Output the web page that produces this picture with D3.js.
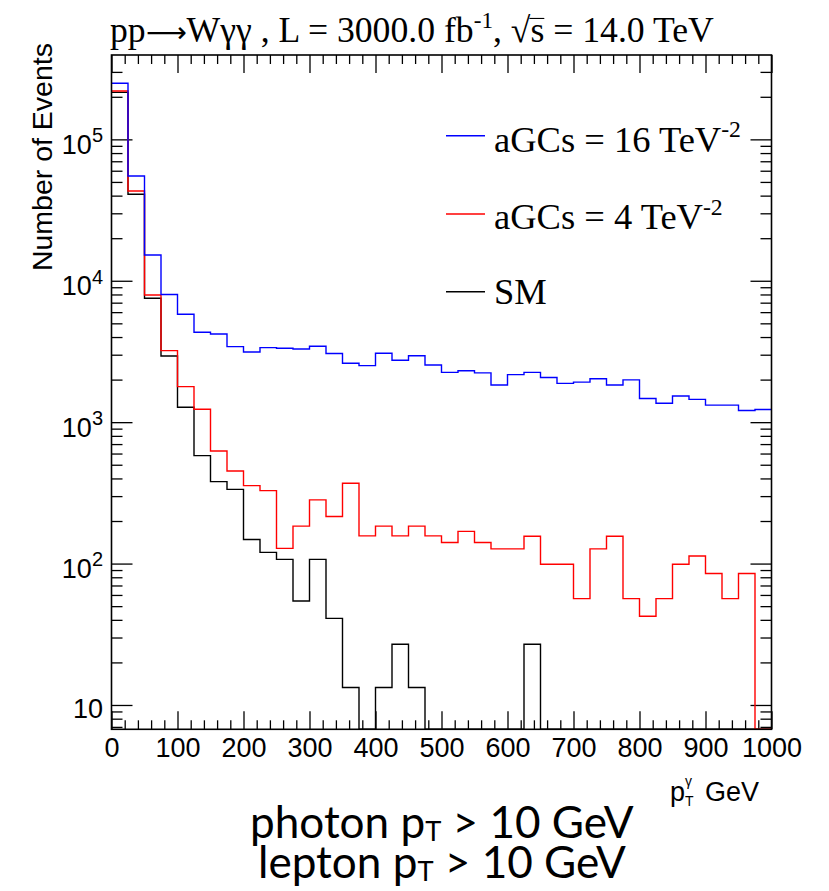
<!DOCTYPE html>
<html>
<head>
<meta charset="utf-8">
<script src="https://cdn.jsdelivr.net/npm/d3@7"></script>
<style>
  body { margin: 0; background: #fff; }
  svg { display: block; }
</style>
</head>
<body>
<div id="chart"></div>
<script>
// bins of photon pT (GeV), 25 GeV wide
const binLow = [0, 25, 50, 75, 100, 125, 150, 175, 200, 225, 250, 275, 300, 325, 350, 375, 400, 425, 450, 475,
                500, 525, 550, 575, 600, 625, 650, 675, 700, 725, 750, 775, 800, 825, 850, 875, 900, 925, 950, 975];
const binHigh = 1000;

// events per bin
const aGC16 = [249500, 55100, 15200, 8000, 5800, 4320, 4200, 3420, 3135, 3365, 3335, 3295, 3440, 3060, 2610,
               2510, 3070, 2740, 2950, 2540, 2250, 2310, 2230, 1830, 2170, 2250, 2070, 1880, 1920, 2030,
               1830, 1990, 1470, 1360, 1530, 1450, 1320, 1320, 1210, 1230];
const aGC4 = [220000, 43150, 7940, 3205, 1783, 1234, 625, 452, 356, 328, 128, 184, 282, 215, 370,
              157, 184, 157, 184, 157, 141, 169, 141, 127, 127, 156, 99, 99, 56.5, 127,
              156, 56.5, 42.4, 56.5, 99, 113, 85, 56.5, 85, 0];
const smEvents = [215000, 40900, 7520, 2940, 1275, 580, 380, 335, 148, 120, 107, 54.4, 107, 41, 13.3,
                  0, 13.3, 26.9, 13.3, 0, 0, 0, 0, 0, 0, 26.9, 0, 0, 0, 0,
                  0, 0, 0, 0, 0, 0, 0, 0, 0, 0];

const seriesNames = ["SM", "aGCs = 4 TeV", "aGCs = 16 TeV"];
const seriesColors = ["#000000", "#ff0000", "#0000ff"];

const xMajor = [0, 100, 200, 300, 400, 500, 600, 700, 800, 900, 1000];
const yMajor = [10, 100, 1000, 10000, 100000];

const width = 829, height = 891;
const plotL = 111.5, plotR = 771.5, plotT = 55, plotB = 729.3;
const yMin = 6.73, yMax = 3.95e5;

const x = d3.scaleLinear().domain([0, binHigh]).range([plotL, plotR]);
const y = d3.scaleLog().domain([yMin, yMax]).range([plotB, plotT]);

const svg = d3.select("#chart").append("svg")
    .attr("width", width)
    .attr("height", height);

const sans = "'Liberation Sans', Arial, Helvetica, sans-serif";
const serif = "'Liberation Serif', 'Times New Roman', serif";

// minor ticks
const xMinor = d3.range(0, binHigh + 1, 20).filter(v => v % 100 !== 0);
const yMinor = [];
[1, 10, 100, 1000, 10000, 100000].forEach(d => {
  for (let k = 2; k <= 9; k++) {
    const v = d * k;
    if (v > yMin && v < yMax) yMinor.push(v);
  }
});

function styleAxis(g) {
  g.select(".domain").remove();
  g.selectAll(".tick line").attr("stroke", "#000").attr("stroke-width", 1.3);
}

// bottom axis
svg.append("g")
    .attr("transform", `translate(0,${plotB})`)
    .call(d3.axisBottom(x).tickValues(xMajor).tickSize(-18).tickPadding(9).tickFormat(d3.format("d")))
    .call(styleAxis)
    .call(g => g.selectAll("text")
        .attr("font-family", sans).attr("font-size", 27).attr("fill", "#000"));
svg.append("g")
    .attr("transform", `translate(0,${plotB})`)
    .call(d3.axisBottom(x).tickValues(xMinor).tickSize(-9).tickFormat(""))
    .call(styleAxis);

// top axis
svg.append("g")
    .attr("transform", `translate(0,${plotT})`)
    .call(d3.axisTop(x).tickValues(xMajor).tickSize(-18).tickFormat(""))
    .call(styleAxis);
svg.append("g")
    .attr("transform", `translate(0,${plotT})`)
    .call(d3.axisTop(x).tickValues(xMinor).tickSize(-9).tickFormat(""))
    .call(styleAxis);

// left axis with 10^n labels
const yAxisG = svg.append("g")
    .attr("transform", `translate(${plotL},0)`)
    .call(d3.axisLeft(y).tickValues(yMajor).tickSize(-21).tickFormat(""))
    .call(styleAxis);
yAxisG.selectAll(".tick").append("text")
    .attr("x", -8.5)
    .attr("y", d => d === 10 ? 12.3 : 14)
    .attr("text-anchor", "end")
    .attr("font-family", sans)
    .attr("font-size", 27)
    .attr("fill", "#000")
    .each(function(d) {
      const t = d3.select(this);
      const e = Math.round(Math.log10(d));
      if (e === 1) { t.text("10"); return; }
      t.append("tspan").text("10");
      t.append("tspan").attr("font-size", 20).attr("dy", -11.6).text(e);
    });
svg.append("g")
    .attr("transform", `translate(${plotL},0)`)
    .call(d3.axisLeft(y).tickValues(yMinor).tickSize(-11).tickFormat(""))
    .call(styleAxis);

// right axis
svg.append("g")
    .attr("transform", `translate(${plotR},0)`)
    .call(d3.axisRight(y).tickValues(yMajor).tickSize(-21).tickFormat(""))
    .call(styleAxis);
svg.append("g")
    .attr("transform", `translate(${plotR},0)`)
    .call(d3.axisRight(y).tickValues(yMinor).tickSize(-11).tickFormat(""))
    .call(styleAxis);

// histograms
const step = d3.line()
    .x(d => x(d[0]))
    .y(d => y(Math.max(d[1], yMin)))
    .curve(d3.curveStepAfter);

[smEvents, aGC4, aGC16].forEach((vals, i) => {
  const pts = binLow.map((b, j) => [b, vals[j]]).concat([[binHigh, vals[vals.length - 1]]]);
  svg.append("path")
      .attr("d", step(pts))
      .attr("fill", "none")
      .attr("stroke", seriesColors[i])
      .attr("stroke-width", 1.4);
});

// frame
svg.append("rect")
    .attr("x", plotL).attr("y", plotT)
    .attr("width", plotR - plotL).attr("height", plotB - plotT)
    .attr("fill", "none").attr("stroke", "#000").attr("stroke-width", 1.6);

// fit a text element to a target width
function fitWidth(t, target) {
  const fs = +t.attr("font-size");
  const w = t.node().getBBox().width;
  t.attr("font-size", fs * target / w);
  return fs * target / w;
}

// legend
const legendRows = [
  { name: seriesNames[2], sup: "-2", color: seriesColors[2], ly: 135.7, ty: 151.7 },
  { name: seriesNames[1], sup: "-2", color: seriesColors[1], ly: 214, ty: 229.3 },
  { name: seriesNames[0], sup: null, color: seriesColors[0], ly: 291.7, ty: 304 }
];
const legend = svg.append("g");
let legendSize = 34;
legendRows.forEach((r, i) => {
  legend.append("line")
      .attr("x1", 446).attr("x2", 485)
      .attr("y1", r.ly).attr("y2", r.ly)
      .attr("stroke", r.color).attr("stroke-width", 1.4);
  const t = legend.append("text")
      .attr("x", 494).attr("y", r.ty)
      .attr("font-family", serif)
      .attr("font-size", legendSize)
      .attr("fill", "#000");
  t.append("tspan").text(r.name);
  if (r.sup) t.append("tspan").attr("font-size", "65%").attr("dy", "-0.62em").text(r.sup);
  if (i === 0) legendSize = fitWidth(t, 247);
  else t.attr("font-size", legendSize);
});

// title
const title = svg.append("text")
    .attr("x", 110).attr("y", 42)
    .attr("font-family", serif)
    .attr("font-size", 32)
    .attr("fill", "#000");
title.append("tspan").text("pp");
title.append("tspan").attr("font-family", "'DejaVu Sans', sans-serif").attr("font-size", "80%").text("\u27f6");
title.append("tspan").text("W\u03b3\u03b3 , L = 3000.0 fb");
title.append("tspan").attr("font-size", "65%").attr("dy", "-0.62em").text("-1");
title.append("tspan").attr("dy", "0.403em").text(", \u221as = 14.0 TeV");
const titleSize = fitWidth(title, 604);

// bar of the square root over "s"
const sIdx = title.node().textContent.indexOf("\u221a") + 1;
const sBox = title.node().getExtentOfChar(sIdx);
svg.append("line")
    .attr("x1", sBox.x - 1).attr("x2", sBox.x + sBox.width)
    .attr("y1", 42 - 0.66 * titleSize).attr("y2", 42 - 0.66 * titleSize)
    .attr("stroke", "#000").attr("stroke-width", 1.1);

// y axis title
svg.append("text")
    .attr("transform", "translate(51.7,43) rotate(-90)")
    .attr("text-anchor", "end")
    .attr("font-family", sans)
    .attr("font-size", 28.5)
    .attr("fill", "#000")
    .text("Number of Events");

// x axis title
const xt = svg.append("text")
    .attr("x", 670).attr("y", 801)
    .attr("font-family", sans)
    .attr("font-size", 27)
    .attr("fill", "#000");
xt.append("tspan").text("p");
xt.append("tspan").attr("font-size", 14).attr("dy", -15).text("\u03b3");
xt.append("tspan").attr("font-size", 14).attr("dx", -7).attr("dy", 20).text("T");
xt.append("tspan").attr("x", 705).attr("dy", -5).text("GeV");

// cut annotation, two lines in one text block
const cuts = [
  { label: "photon", x0: 250, y: 838 },
  { label: "lepton", x0: 258, y: 878 }
];
const cutText = svg.append("text")
    .attr("font-family", "Lato, 'Open Sans', sans-serif")
    .attr("font-size", 44)
    .attr("fill", "#000");
cuts.forEach((c, i) => {
  cutText.append("tspan").attr("x", c.x0).attr("y", c.y).text(c.label + " p");
  cutText.append("tspan").attr("font-size", "62%").attr("dy", "0.12em").text("T");
  cutText.append("tspan").attr("dy", "-0.075em").text(" > 10 GeV");
  if (i === 0) fitWidth(cutText, 384);
});
</script>
</body>
</html>
